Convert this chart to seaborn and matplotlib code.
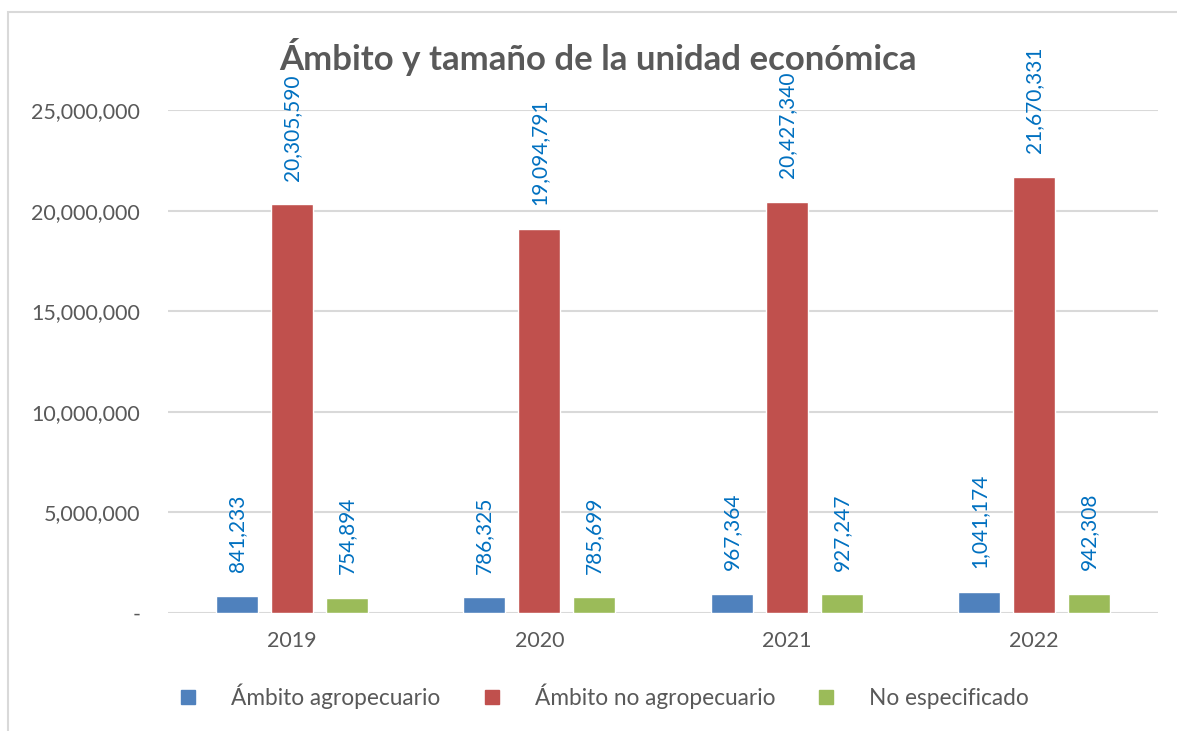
import pandas as pd
import matplotlib.pyplot as plt
import seaborn as sns
from matplotlib.patches import Rectangle
from matplotlib.lines import Line2D

years = ['2019', '2020', '2021', '2022']
series = ['Ámbito agropecuario', 'Ámbito no agropecuario', 'No especificado']
agro = [841233, 786325, 967364, 1041174]
no_agro = [20305590, 19094791, 20427340, 21670331]
no_esp = [754894, 785699, 927247, 942308]
colors = ['#4F81BD', '#C0504D', '#9BBB59']

rows = []
for name, vals in zip(series, [agro, no_agro, no_esp]):
    for y, v in zip(years, vals):
        rows.append([y, name, v])
df = pd.DataFrame(rows, columns=['year', 'serie', 'value'])

sns.set_style('white')
plt.rcParams['font.family'] = ['Lato', 'DejaVu Sans']

fig = plt.figure(figsize=(11.77, 7.31), dpi=100)
ax = fig.add_axes([168/1177, 1 - 613/731, (1158 - 168)/1177, (613 - 110)/731])

sns.barplot(data=df, x='year', y='value', hue='serie', palette=colors,
            width=0.667, gap=0.23, ax=ax, legend=False, saturation=1)

ax.set_ylim(0, 25000000)
ax.set_xlim(-0.5, 3.5)
ax.set_yticks(range(0, 25000001, 5000000))
ax.set_yticklabels(['-'] + [f'{v:,}' for v in range(5000000, 25000001, 5000000)])
ax.grid(axis='y', color='#D9D9D9', linewidth=1.5)
ax.set_axisbelow(True)
sns.despine(ax=ax, left=True, top=True, right=True, bottom=True)
ax.tick_params(axis='both', length=0, labelsize=15.5, colors='#595959')
ax.tick_params(axis='y', pad=20)
ax.tick_params(axis='x', pad=13)
ax.set_xlabel('')
ax.set_ylabel('')

# data labels
for cont, vals in zip(ax.containers, [agro, no_agro, no_esp]):
    for bar, v in zip(cont, vals):
        ax.annotate(f'{v:,}', (bar.get_x() + bar.get_width() / 2, bar.get_height()),
                    xytext=(0, 17), textcoords='offset points', rotation=90,
                    ha='center', va='bottom', fontsize=15, color='#0070C0')

fig.text(598/1177, 1 - 57/731, 'Ámbito y tamaño de la unidad económica',
         ha='center', va='center', fontsize=25, fontweight='bold', color='#595959')

handles = [Line2D([], [], marker='s', linestyle='', markersize=10,
                  markerfacecolor=c, markeredgecolor=c) for c in colors]
fig.legend(handles, series, loc='center', bbox_to_anchor=(603/1177, 1 - 696/731),
           ncol=3, frameon=False, fontsize=16.3, handlelength=1.0,
           handletextpad=1.4, columnspacing=1.75, labelcolor='#595959')

fig.patches.append(Rectangle((8/1177, -0.05), 1.2, 1 - 12/731 + 0.05,
                             transform=fig.transFigure, fill=False,
                             edgecolor='#D9D9D9', linewidth=1.5))

fig.savefig('out.png', dpi=100)
